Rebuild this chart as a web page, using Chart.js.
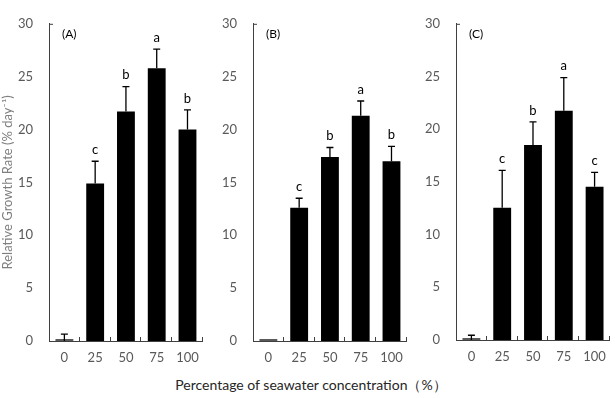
<!DOCTYPE html>
<html>
<head>
<meta charset="utf-8">
<script src="https://cdn.jsdelivr.net/npm/chart.js@4/dist/chart.umd.min.js"></script>
<style>
  body { margin: 0; background: #fff; }
  #wrap { position: relative; width: 615px; height: 398px; background: #fff; }
  canvas { position: absolute; top: 0; }
  #xtitle {
    position: absolute; left: 0; top: 376px; width: 622px; text-align: center;
    font-family: Lato, sans-serif; font-size: 14px; color: #262626;
  }
</style>
</head>
<body>
<div id="wrap">
  <canvas id="panel-a" width="208" height="370" style="left:0px"></canvas>
  <canvas id="panel-b" width="204" height="370" style="left:208px"></canvas>
  <canvas id="panel-c" width="203" height="370" style="left:412px"></canvas>
  <div id="xtitle">Percentage of seawater concentration（%）</div>
</div>
<script>
// seawater concentration (%)
const categories = ["0", "25", "50", "75", "100"];

// relative growth rate (% day-1), mean and SD per panel
const rgrA = [0, 14.9, 21.7, 25.8, 20.0];
const sdA = [0.65, 2.1, 2.35, 1.8, 1.85];
const lettersA = ["", "c", "b", "a", "b"];

const rgrB = [0, 12.6, 17.4, 21.3, 17.0];
const sdB = [0, 0.9, 0.9, 1.4, 1.4];
const lettersB = ["", "c", "b", "a", "b"];

const rgrC = [0, 12.55, 18.5, 21.75, 14.55];
const sdC = [0.45, 3.55, 2.2, 3.15, 1.35];
const lettersC = ["", "c", "b", "a", "c"];

const yMin = 0, yMax = 30, yStep = 5;

const axisColor = "#404040";
const tickColor = "#595959";
const fontFamily = "Lato";

// error bars, letters, panel tag and the little inward tick marks
const extrasPlugin = {
  id: "extras",
  afterDatasetsDraw(chart, args, opts) {
    const ctx = chart.ctx;
    const x = chart.scales.x;
    const y = chart.scales.y;
    const area = chart.chartArea;
    const vals = chart.data.datasets[0].data;
    const half = (x.getPixelForValue(1) - x.getPixelForValue(0)) / 2;
    ctx.save();
    ctx.strokeStyle = "#000";
    ctx.lineWidth = 1.3;
    ctx.fillStyle = "#000";
    ctx.font = "13px " + fontFamily;
    ctx.textAlign = "center";
    ctx.textBaseline = "bottom";
    vals.forEach((v, i) => {
      const cx = x.getPixelForValue(i);
      const top = y.getPixelForValue(v + opts.sd[i]);
      // zero-height bars still show as a dark stub on the axis
      if (v === 0) {
        ctx.beginPath();
        ctx.moveTo(cx - half * 0.58, y.getPixelForValue(0) - 1);
        ctx.lineTo(cx + half * 0.58, y.getPixelForValue(0) - 1);
        ctx.stroke();
      }
      if (opts.sd[i] > 0) {
        ctx.beginPath();
        ctx.moveTo(cx, y.getPixelForValue(v));
        ctx.lineTo(cx, top);
        ctx.moveTo(cx - 3.5, top);
        ctx.lineTo(cx + 3.5, top);
        ctx.stroke();
      }
      if (opts.letters[i]) {
        ctx.fillText(opts.letters[i], cx, top - 5);
      }
    });

    // panel tag
    ctx.font = "12px " + fontFamily;
    ctx.textAlign = "left";
    ctx.textBaseline = "middle";
    ctx.fillText(opts.tag, area.left + 13, area.top + 10);

    // tick marks pointing inward
    ctx.strokeStyle = axisColor;
    ctx.lineWidth = 1;
    ctx.beginPath();
    ctx.moveTo(area.left, area.top + 0.5);
    ctx.lineTo(area.left + 4, area.top + 0.5);
    for (let i = 0; i < vals.length; i++) {
      const bx = Math.round(x.getPixelForValue(i) + half) - 0.5;
      ctx.moveTo(bx, area.bottom);
      ctx.lineTo(bx, area.bottom - 4);
    }
    ctx.stroke();
    ctx.restore();
  },
};

function createPanel(id, values, sd, letters, tag, layout) {
  const ctx = document.getElementById(id).getContext("2d");
  return new Chart(ctx, {
    type: "bar",
    plugins: [extrasPlugin],
    data: {
      labels: categories,
      datasets: [
        {
          data: values,
          backgroundColor: "#000",
          borderWidth: 0,
          barPercentage: 0.58,
          categoryPercentage: 1,
        },
      ],
    },
    options: {
      responsive: false,
      animation: false,
      layout: {
        padding: { top: layout.top, right: layout.right, left: 0, bottom: 0 },
      },
      plugins: {
        legend: { display: false },
        tooltip: { enabled: false },
        extras: { sd: sd, letters: letters, tag: tag },
      },
      scales: {
        x: {
          offset: true,
          grid: { display: false, drawTicks: false },
          border: { display: true, color: axisColor, width: 1 },
          ticks: {
            color: tickColor,
            padding: 9,
            font: { size: 13, family: fontFamily },
          },
          afterFit(scale) {
            scale.height = 370 - layout.bottom;
          },
        },
        y: {
          min: yMin,
          max: yMax,
          grid: { display: false, drawTicks: false },
          border: { display: true, color: axisColor, width: 1 },
          ticks: {
            stepSize: yStep,
            color: tickColor,
            padding: 16,
            font: { size: 13, family: fontFamily },
          },
          title: {
            display: layout.yTitle,
            text: "Relative Growth Rate (% day⁻¹)",
            color: "#7f7f7f",
            padding: 0,
            font: { size: 13, family: fontFamily },
          },
          afterFit(scale) {
            scale.width = layout.left;
          },
        },
      },
    },
  });
}

createPanel("panel-a", rgrA, sdA, lettersA, "(A)", { left: 49, right: 2, top: 18, bottom: 341, yTitle: true });
createPanel("panel-b", rgrB, sdB, lettersB, "(B)", { left: 45, right: 2, top: 22, bottom: 341, yTitle: false });
createPanel("panel-c", rgrC, sdC, lettersC, "(C)", { left: 44, right: 1, top: 20, bottom: 340, yTitle: false });
</script>
</body>
</html>
